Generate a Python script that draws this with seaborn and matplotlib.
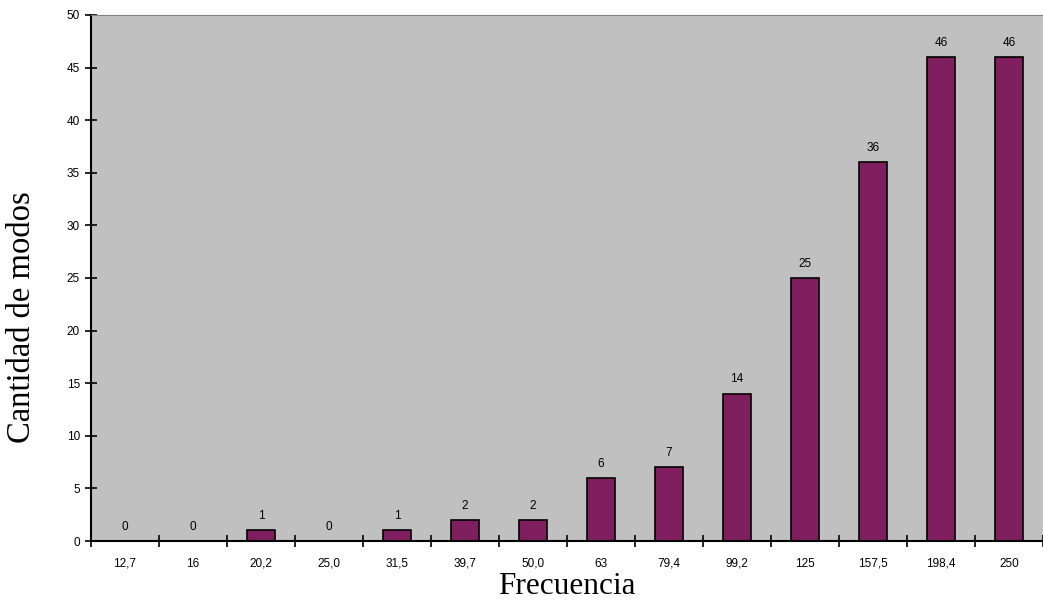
import numpy as np
import matplotlib.pyplot as plt
import seaborn as sns

# Frecuencias (etiquetas del eje x) y cantidad de modos
frecuencias = ["12,7", "16", "20,2", "25,0", "31,5", "39,7", "50,0", "63",
               "79,4", "99,2", "125", "157,5", "198,4", "250"]
modos = [0, 0, 1, 0, 1, 2, 2, 6, 7, 14, 25, 36, 46, 46]
y_ticks = list(range(0, 51, 5))

sns.set_style("white")
plt.rcParams['font.family'] = ['Liberation Sans', 'DejaVu Sans']
plt.rcParams['text.color'] = 'black'
plt.rcParams['xtick.color'] = 'black'
plt.rcParams['ytick.color'] = 'black'

fig = plt.figure(figsize=(10.43, 6.04), dpi=100)
ax = fig.add_axes([0.0872, 0.1043, 0.9128, 0.8709])
ax.set_facecolor("#C0C0C0")

sns.barplot(x=frecuencias, y=modos, color="#801F5F", edgecolor="black",
            linewidth=1.2, width=0.42, saturation=1, ax=ax)
ax.bar_label(ax.containers[0], fontsize=8.5, padding=6, color="black")

ax.set_xlim(-0.5, len(frecuencias) - 0.5)
ax.set_ylim(0, 50)
ax.set_yticks(y_ticks)
ax.set_yticklabels([str(v) for v in y_ticks], fontsize=8.5)
ax.set_xticks(np.arange(len(frecuencias)))
ax.set_xticklabels(frecuencias, fontsize=8.5)
ax.set_xticks(np.arange(len(frecuencias) + 1) - 0.5, minor=True)
ax.tick_params(axis="x", which="major", bottom=True, length=0, pad=12)
ax.tick_params(axis="x", which="minor", bottom=True, direction="inout",
               length=9, width=1.2, color="black")
ax.tick_params(axis="y", left=True, direction="inout", length=8, width=1.2,
               color="black", pad=4)

for side in ["left", "bottom"]:
    ax.spines[side].set_color("black")
    ax.spines[side].set_linewidth(1.5)
ax.spines["top"].set_color("#808080")
ax.spines["top"].set_linewidth(0.8)
ax.spines["right"].set_visible(False)

ax.set_xlabel("Frecuencia", family=["Liberation Serif", "DejaVu Serif"],
              fontsize=22.5, color="black", labelpad=2)
ax.set_ylabel("Cantidad de modos", family=["Liberation Serif", "DejaVu Serif"],
              fontsize=23.5, color="black")
ax.yaxis.set_label_coords(-0.0725, 0.426)
ax.yaxis.label.set_verticalalignment("center")

fig.savefig("out.png", dpi=100)
